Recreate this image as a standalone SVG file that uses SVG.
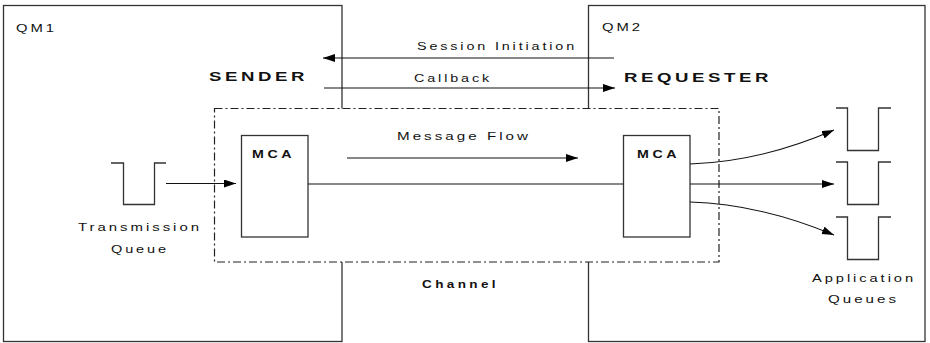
<svg xmlns="http://www.w3.org/2000/svg" width="930" height="343" viewBox="0 0 930 343">
<style>
.box{fill:none;stroke:#333;stroke-width:1.3}
.chan{fill:#fff;stroke:#222;stroke-width:1.2;stroke-dasharray:8 3 2 3}
.mca{fill:#fff;stroke:#333;stroke-width:1.3}
.q{fill:none;stroke:#333;stroke-width:1.3}
.ln{fill:none;stroke:#111;stroke-width:1.1}
.t{font-family:"Liberation Sans",Arial,sans-serif;font-size:10px;fill:#111;letter-spacing:2px}
.b{font-family:"Liberation Sans",Arial,sans-serif;font-weight:bold;fill:#111;letter-spacing:2.5px}
</style>
<defs>
<marker id="ah" markerUnits="userSpaceOnUse" markerWidth="13" markerHeight="9" refX="12" refY="4" orient="auto">
<path d="M0,0 L12,4 L0,8 z" fill="#000"/>
</marker>
</defs>
<rect width="930" height="343" fill="#fff"/>
<g id="qm1">
<rect class="box" x="3.5" y="5.5" width="338.5" height="336"/>
<text class="t" x="16" y="32" textLength="41" lengthAdjust="spacingAndGlyphs">QM1</text>
<text class="b" x="209" y="81" font-size="13" textLength="99" lengthAdjust="spacingAndGlyphs">SENDER</text>
</g>
<g id="qm2">
<rect class="box" x="588.5" y="5.5" width="336.5" height="336"/>
<text class="t" x="602" y="31" textLength="41" lengthAdjust="spacingAndGlyphs">QM2</text>
<text class="b" x="624" y="82" font-size="13" textLength="148" lengthAdjust="spacingAndGlyphs">REQUESTER</text>
</g>
<g id="channel">
<rect class="chan" x="214.5" y="108.5" width="504.5" height="153.5"/>
<text class="b" x="422" y="288" font-size="10" textLength="77" lengthAdjust="spacingAndGlyphs">Channel</text>
</g>
<g id="mca1">
<rect class="mca" x="241.5" y="135.5" width="66.5" height="101.5"/>
<text class="b" x="252" y="158" font-size="10" textLength="43" lengthAdjust="spacingAndGlyphs">MCA</text>
</g>
<g id="mca2">
<rect class="mca" x="623.5" y="135.5" width="66.5" height="101.5"/>
<text class="b" x="637" y="158" font-size="10" textLength="43" lengthAdjust="spacingAndGlyphs">MCA</text>
</g>
<g id="txq">
<path class="q" d="M111,163 H123.5 V204.5 H154.5 V163 H166"/>
<text class="t" x="78" y="231" textLength="124" lengthAdjust="spacingAndGlyphs">Transmission</text>
<text class="t" x="111" y="253" textLength="58" lengthAdjust="spacingAndGlyphs">Queue</text>
</g>
<g id="appq1"><path class="q" d="M836,108 H847.5 V150.5 H878.5 V108 H891"/></g>
<g id="appq2"><path class="q" d="M836,162 H847.5 V204.5 H878.5 V162 H891"/></g>
<g id="appq3"><path class="q" d="M836,217 H847.5 V259.5 H878.5 V217 H891"/>
<text class="t" x="812" y="282" textLength="104" lengthAdjust="spacingAndGlyphs">Application</text>
<text class="t" x="828" y="303" textLength="71" lengthAdjust="spacingAndGlyphs">Queues</text>
</g>
<g id="connectors">
<line class="ln" x1="614" y1="58" x2="323" y2="58" marker-end="url(#ah)"/>
<text class="t" x="417" y="50" textLength="160" lengthAdjust="spacingAndGlyphs">Session Initiation</text>
<line class="ln" x1="324" y1="88" x2="615" y2="88" marker-end="url(#ah)"/>
<text class="t" x="414" y="82" textLength="78" lengthAdjust="spacingAndGlyphs">Callback</text>
<line class="ln" x1="347" y1="158" x2="578" y2="158" marker-end="url(#ah)"/>
<text class="t" x="397" y="140" textLength="134" lengthAdjust="spacingAndGlyphs">Message Flow</text>
<line class="ln" x1="166" y1="183.5" x2="236" y2="183.5" marker-end="url(#ah)"/>
<line class="ln" x1="308" y1="184" x2="623" y2="184"/>
<path class="ln" d="M690,164 Q760,162 834,130" marker-end="url(#ah)"/>
<line class="ln" x1="690" y1="184" x2="834" y2="184" marker-end="url(#ah)"/>
<path class="ln" d="M690,202 Q760,204 834,235" marker-end="url(#ah)"/>
</g>
</svg>
